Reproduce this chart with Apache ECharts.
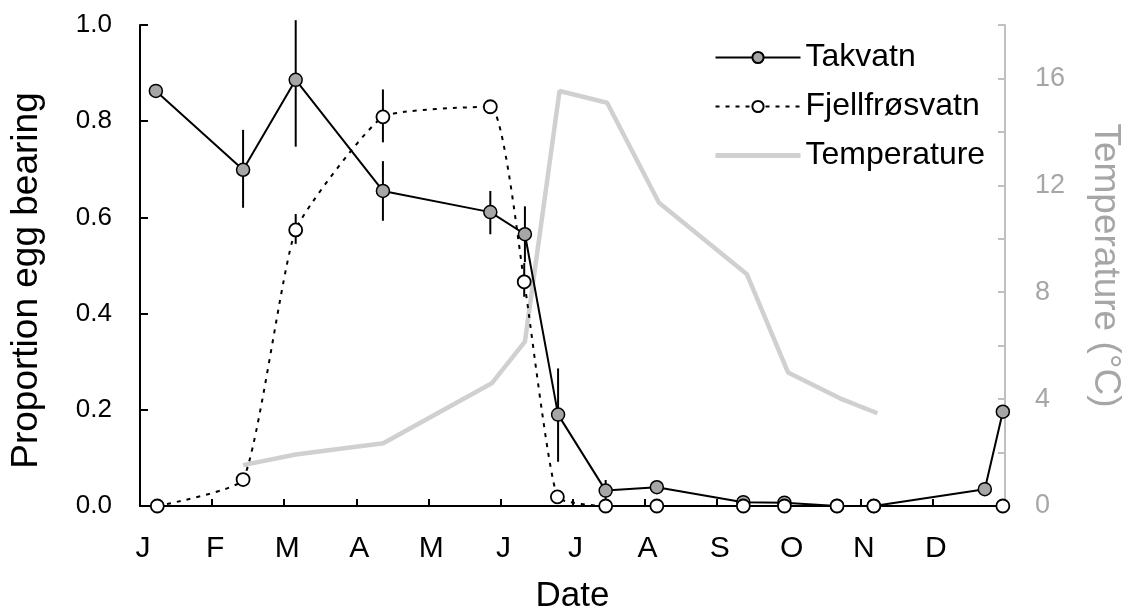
<!DOCTYPE html>
<html>
<head>
<meta charset="utf-8">
<script src="https://cdn.jsdelivr.net/npm/echarts@6/dist/echarts.min.js"></script>
<style>
html,body{margin:0;padding:0;background:#fff;}
#chart{width:1128px;height:610px;}
</style>
</head>
<body>
<div id="chart"></div>
<script>
// x values are in months from 1 January (0 = 1 Jan, 12 = 31 Dec)
var monthLabels = ['J','F','M','A','M','J','J','A','S','O','N','D'];

var takX = [0.22, 1.43, 2.16, 3.37, 4.86, 5.34, 5.80, 6.46, 7.17, 8.37, 8.94, 9.67, 10.18, 11.72, 11.97];
var takY = [0.863, 0.699, 0.886, 0.655, 0.611, 0.565, 0.190, 0.032, 0.039, 0.008, 0.007, 0.000, 0.000, 0.035, 0.196];
var takErrX    = [1.43, 2.16, 3.37, 4.86, 5.34, 5.80, 6.46];
var takErrLow  = [0.620, 0.747, 0.593, 0.565, 0.507, 0.092, 0.010];
var takErrHigh = [0.782, 1.010, 0.717, 0.655, 0.623, 0.286, 0.054];

var fjX = [0.24, 1.43, 2.16, 3.37, 4.86, 5.33, 5.79, 6.46, 7.17, 8.37, 8.94, 9.67, 10.18, 11.97];
var fjY = [0.000, 0.055, 0.574, 0.809, 0.830, 0.466, 0.019, 0.000, 0.000, 0.000, 0.000, 0.000, 0.000, 0.000];
var fjErrX    = [2.16, 3.37, 5.33];
var fjErrLow  = [0.545, 0.756, 0.435];
var fjErrHigh = [0.607, 0.866, 0.505];

var tempX = [1.43, 2.16, 3.375, 4.88, 5.34, 5.82, 6.48, 7.20, 8.42, 8.99, 9.71, 10.23];
var tempY = [1.53, 1.93, 2.35, 4.59, 6.15, 15.53, 15.09, 11.35, 8.67, 5.00, 4.03, 3.47];

var rightLabelTicks = [0, 4, 8, 12, 16];

function zip(a, b) { return a.map(function (v, i) { return [v, b[i]]; }); }
function zip3(a, b, c) { return a.map(function (v, i) { return [v, b[i], c[i]]; }); }

function errRender(params, api) {
  var p1 = api.coord([api.value(0), api.value(1)]);
  var p2 = api.coord([api.value(0), api.value(2)]);
  return {
    type: 'line',
    shape: { x1: p1[0], y1: p1[1], x2: p2[0], y2: p2[1] },
    style: { stroke: '#000', lineWidth: 2 }
  };
}

var FONT = '"Liberation Sans", Arial, sans-serif';
var chart = echarts.init(document.getElementById('chart'), null, { renderer: 'canvas' });
chart.setOption({
  animation: false,
  backgroundColor: '#fff',
  textStyle: { fontFamily: FONT },
  grid: { left: 140, right: 123, top: 25, bottom: 104, containLabel: false, outerBoundsMode: 'none' },
  legend: {
    orient: 'vertical',
    left: 713, top: 41, padding: 0,
    itemWidth: 85, itemHeight: 14, itemGap: 16,
    textStyle: { fontSize: 32, color: '#000', fontFamily: FONT, lineHeight: 33 },
    data: [
      'Takvatn',
      'Fjellfrøsvatn',
      { name: 'Temperature', itemStyle: { opacity: 0 }, lineStyle: { width: 5, color: '#d0d0d0' } }
    ]
  },
  xAxis: {
    type: 'value', min: 0, max: 12, interval: 1,
    name: 'Date', nameLocation: 'middle', nameGap: 73,
    nameTextStyle: { fontSize: 35, color: '#000', fontFamily: FONT },
    axisLine: { show: true, lineStyle: { color: '#000', width: 2 } },
    axisTick: { show: true, inside: true, length: 7, lineStyle: { color: '#000', width: 2 } },
    axisLabel: {
      fontSize: 30, color: '#000', margin: 28, fontFamily: FONT, padding: [0, 0, 0, 6],
      formatter: function (v) { var i = Math.round(v); return (i >= 0 && i < 12) ? monthLabels[i] : ''; }
    },
    splitLine: { show: false }
  },
  yAxis: [
    {
      type: 'value', min: 0, max: 1, interval: 0.2, position: 'left',
      name: 'Proportion egg bearing', nameLocation: 'middle', nameGap: 95,
      nameTextStyle: { fontSize: 37, color: '#000', fontFamily: FONT, padding: [0, 30, 0, 0] },
      axisLine: { show: true, lineStyle: { color: '#000', width: 2 } },
      axisTick: { show: true, inside: true, length: 8, lineStyle: { color: '#000', width: 2 } },
      axisLabel: { fontSize: 26, color: '#000', margin: 28, fontFamily: FONT,
        formatter: function (v) { return v.toFixed(1); } },
      splitLine: { show: false }
    },
    {
      type: 'value', min: 0, max: 18, interval: 2, position: 'right',
      name: 'Temperature (°C)', nameLocation: 'middle', nameGap: 82, nameRotate: -90,
      nameTextStyle: { fontSize: 37, color: '#a6a6a6', fontFamily: FONT },
      axisLine: { show: true, lineStyle: { color: '#c0c0c0', width: 2 } },
      axisTick: { show: true, inside: true, length: 7, lineStyle: { color: '#c0c0c0', width: 2 } },
      axisLabel: { fontSize: 27, color: '#a6a6a6', margin: 30, fontFamily: FONT,
        formatter: function (v) { return rightLabelTicks.indexOf(Math.round(v)) >= 0 && Math.abs(v - Math.round(v)) < 1e-6 ? String(Math.round(v)) : ''; } },
      splitLine: { show: false }
    }
  ],
  series: [
    {
      name: 'Temperature', type: 'line', yAxisIndex: 1, z: 1,
      data: zip(tempX, tempY), showSymbol: false, symbol: 'none',
      lineStyle: { color: '#d0d0d0', width: 4.5 },
      itemStyle: { color: '#d0d0d0' }
    },
    {
      name: 'takErr', type: 'custom', renderItem: errRender, z: 2, clip: false,
      encode: { x: 0, y: [1, 2] },
      data: zip3(takErrX, takErrLow, takErrHigh), silent: true
    },
    {
      name: 'fjErr', type: 'custom', renderItem: errRender, z: 2, clip: false,
      encode: { x: 0, y: [1, 2] },
      data: zip3(fjErrX, fjErrLow, fjErrHigh), silent: true
    },
    {
      name: 'Takvatn', type: 'line', z: 3,
      data: zip(takX, takY),
      symbol: 'circle', symbolSize: 13, showAllSymbol: true,
      lineStyle: { color: '#000', width: 2 },
      itemStyle: { color: '#a6a6a6', borderColor: '#000', borderWidth: 1.5 }
    },
    {
      name: 'Fjellfrøsvatn', type: 'line', z: 4, smooth: 0.15,
      data: zip(fjX, fjY),
      symbol: 'circle', symbolSize: 13, showAllSymbol: true,
      lineStyle: { color: '#000', width: 2, type: [4, 6] },
      itemStyle: { color: '#fff', borderColor: '#000', borderWidth: 1.8 }
    }
  ]
});
</script>
</body>
</html>
